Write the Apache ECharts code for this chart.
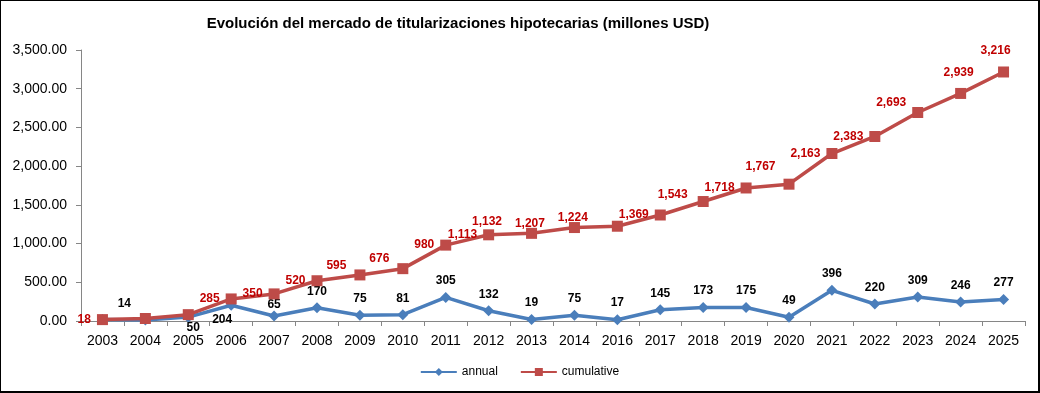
<!DOCTYPE html>
<html>
<head>
<meta charset="utf-8">
<script src="https://cdn.jsdelivr.net/npm/echarts@6/dist/echarts.min.js"></script>
<style>
html,body{margin:0;padding:0;background:#fff;}
#c{width:1040px;height:393px;box-sizing:border-box;border-left:1px solid #000;border-top:1px solid #000;border-right:2px solid #000;border-bottom:2px solid #000;}
</style>
</head>
<body>
<div id="c"></div>
<script>
const categories = ['2003','2004','2005','2006','2007','2008','2009','2010','2011','2012','2013','2014','2016','2017','2018','2019','2020','2021','2022','2023','2024','2025'];
const annual = [18, 14, 50, 204, 65, 170, 75, 81, 305, 132, 19, 75, 17, 145, 173, 175, 49, 396, 220, 309, 246, 277];
const cumulative = [18, 32, 82, 285, 350, 520, 595, 676, 980, 1113, 1132, 1207, 1224, 1369, 1543, 1718, 1767, 2163, 2383, 2693, 2939, 3216];
const yTicks = [0, 500, 1000, 1500, 2000, 2500, 3000, 3500];

const chart = echarts.init(document.getElementById('c'), null, {renderer: 'canvas'});
const FONT = 'Liberation Sans';
const fmt = v => v.toLocaleString('en-US');

// label placement (style only)
const cumHidden = [1, 2];
const cumLabel = {
  6: {position: 'left', offset: [-2, -9]},
  7: {position: 'left', offset: [-2, -10]},
  10: {position: 'left', offset: [-18, -12]},
  11: {position: 'left', offset: [-18, -4]},
  12: {position: 'left', offset: [-18, -9]},
  14: {position: 'left', offset: [-4, -7]},
  16: {position: 'left', offset: [-2, -17]},
  19: {position: 'left', offset: [0, -10]},
  20: {position: 'top', offset: [-2, -3]},
  21: {position: 'top', offset: [-8, -4]}
};
const annLabel = {
  0: {show: false},
  1: {position: 'top', offset: [-21, 0]},
  2: {position: 'bottom', offset: [5, -6]},
  3: {position: 'bottom', offset: [-9, -2]},
  4: {position: 'top', offset: [0, 5]}
};

const cumData = cumulative.map((v, i) => {
  const item = {value: v};
  if (cumHidden.includes(i)) item.label = {show: false};
  else if (cumLabel[i]) item.label = cumLabel[i];
  return item;
});
const annData = annual.map((v, i) => {
  const item = {value: v};
  if (annLabel[i]) item.label = annLabel[i];
  return item;
});

chart.setOption({
  animation: false,
  title: {
    text: 'Evolución del mercado de titularizaciones hipotecarias (millones USD)',
    left: 452, top: 10, textAlign: 'center',
    textStyle: {fontFamily: FONT, fontSize: 15, fontWeight: 'bold', color: '#000'}
  },
  legend: {
    bottom: 8, left: 'center', itemWidth: 36, itemHeight: 10, itemGap: 22,
    textStyle: {fontFamily: FONT, fontSize: 12, color: '#000'},
    data: ['annual', 'cumulative']
  },
  grid: {left: 80, right: 13, top: 49, bottom: 70, containLabel: false},
  xAxis: {
    type: 'category', data: categories, boundaryGap: true,
    axisLine: {lineStyle: {color: '#868686', width: 1}},
    axisTick: {show: true, length: 5, lineStyle: {color: '#868686'}},
    axisLabel: {fontFamily: FONT, fontSize: 14, color: '#000', margin: 13, interval: 0},
    splitLine: {show: false}
  },
  yAxis: {
    type: 'value', min: yTicks[0], max: yTicks[yTicks.length - 1], interval: 500,
    axisLine: {show: true, lineStyle: {color: '#868686', width: 1}},
    axisTick: {show: true, length: 5, lineStyle: {color: '#868686'}},
    axisLabel: {fontFamily: FONT, fontSize: 14, color: '#000', margin: 14,
      formatter: v => v.toLocaleString('en-US', {minimumFractionDigits: 2, maximumFractionDigits: 2})},
    splitLine: {show: false}
  },
  series: [
    {
      name: 'annual', type: 'line', data: annData,
      symbol: 'diamond', symbolSize: 11, showAllSymbol: true,
      lineStyle: {color: '#4A7EBB', width: 3.5},
      itemStyle: {color: '#4A7EBB'},
      label: {show: true, position: 'top', distance: 5, formatter: p => fmt(p.value),
        fontFamily: FONT, fontSize: 12, fontWeight: 'bold', color: '#000'},
      z: 2
    },
    {
      name: 'cumulative', type: 'line', data: cumData,
      symbol: 'rect', symbolSize: 11, showAllSymbol: true,
      lineStyle: {color: '#BE4B48', width: 3.5},
      itemStyle: {color: '#BE4B48'},
      label: {show: true, position: 'left', distance: 6, formatter: p => fmt(p.value),
        fontFamily: FONT, fontSize: 12, fontWeight: 'bold', color: '#C00000'},
      z: 3
    }
  ]
});
</script>
</body>
</html>
